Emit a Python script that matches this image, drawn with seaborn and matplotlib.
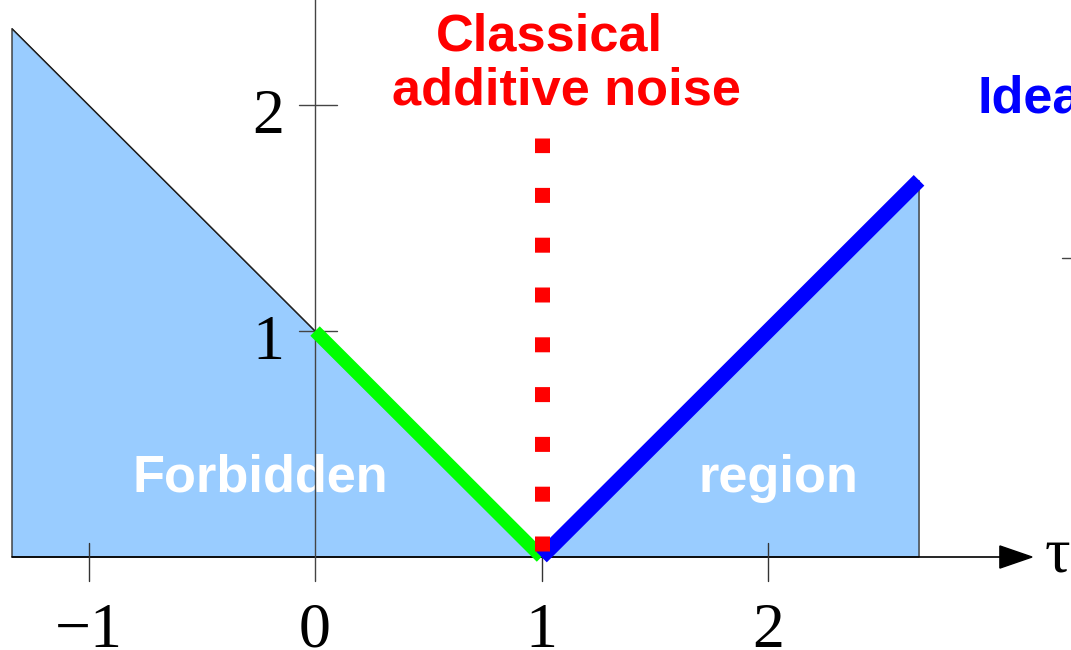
import numpy as np
import pandas as pd
import seaborn as sns
import matplotlib.pyplot as plt

sns.set_style("white")
plt.rcParams["font.family"] = ["Liberation Sans", "DejaVu Sans"]

# boundary of the forbidden region (V shape)
v_x = [-1.338, 0.0, 1.0, 2.667]
v_y = [2.338, 1.0, 0.0, 1.667]

# classical additive noise (vertical dotted line at tau = 1)
noise_x = [1.0, 1.0]
noise_y = [0.027, 1.854]

x_ticks = [-1, 0, 1, 2]
x_tick_labels = ["\u22121", "0", "1", "2"]
y_ticks = [1, 2]
y_tick_labels = ["1", "2"]

fig = plt.figure(figsize=(10.71, 6.5), dpi=100)
ax = fig.add_axes([0, 0, 1, 1])
ax.set_xlim(-1.391, 3.338)
ax.set_ylim(-0.4115, 2.465)
ax.axis("off")

# forbidden region fill
fx = [v_x[0]] + v_x + [v_x[-1]]
fy = [0.0] + v_y + [0.0]
ax.fill(fx, fy, facecolor="#99ccff", edgecolor="#333333", lw=1, zorder=1)

# axes
ax.plot([v_x[0], 3.03], [0, 0], color="black", lw=1.2, zorder=2)
ax.fill([3.166, 3.024, 3.024], [0, 0.049, -0.049], color="black", zorder=2)
ax.plot([0, 0], [-0.106, 2.5], color="#444444", lw=1, zorder=3.5)
for t in x_ticks:
    if t != 0:
        ax.plot([t, t], [-0.106, 0.062], color="#333333", lw=1, zorder=2)
for t in y_ticks:
    ax.plot([-0.0706, 0.097], [t, t], color="#444444", lw=1, zorder=2)
ax.plot([3.298, 3.34], [1.323, 1.323], color="#444444", lw=1, zorder=2)

# tick labels (serif)
serif = ["Liberation Serif", "DejaVu Serif"]
for t, lab in zip(x_ticks, x_tick_labels):
    ax.text(t, -0.398, lab, ha="center", va="baseline", fontsize=46,
            family=serif, color="black", zorder=3)
for t, lab in zip(y_ticks, y_tick_labels):
    ax.text(-0.135, t - 0.124, lab, ha="right", va="baseline", fontsize=46,
            family=serif, color="black", zorder=3)
ax.text(3.223, -0.062, "\u03c4", ha="left", va="baseline", fontsize=46,
        family=serif, color="black", zorder=3)

# curve segments
sns.lineplot(x=v_x[0:2], y=v_y[0:2], ax=ax, color="#222222", lw=0.9,
             estimator=None, sort=False, zorder=2)
sns.lineplot(x=v_x[1:3], y=v_y[1:3], ax=ax, color="#00ff00", lw=9.6,
             estimator=None, sort=False, solid_capstyle="butt", zorder=4)
sns.lineplot(x=v_x[2:4], y=v_y[2:4], ax=ax, color="#0000ff", lw=10.8,
             estimator=None, sort=False, solid_capstyle="butt", zorder=4)
sns.lineplot(x=noise_x, y=noise_y, ax=ax, color="#ff0000", lw=10.8,
             estimator=None, sort=False, linestyle=(0, (1, 2.32)),
             dash_capstyle="butt", zorder=5)

# annotations
bold = dict(fontsize=37.7, fontweight="bold", va="baseline")
ax.text(1.036, 2.243, "Classical", ha="center", color="#ff0000", **bold)
ax.text(1.108, 2.004, "additive noise", ha="center", color="#ff0000", **bold)
ax.text(2.925, 1.965, "Ideal", ha="left", color="#0000ff", **bold)
ax.text(-0.243, 0.288, "Forbidden", ha="center", color="white", zorder=3, **bold)
ax.text(2.044, 0.288, "region", ha="center", color="white", zorder=3, **bold)

fig.savefig("out.png", dpi=100)
plt.close()
